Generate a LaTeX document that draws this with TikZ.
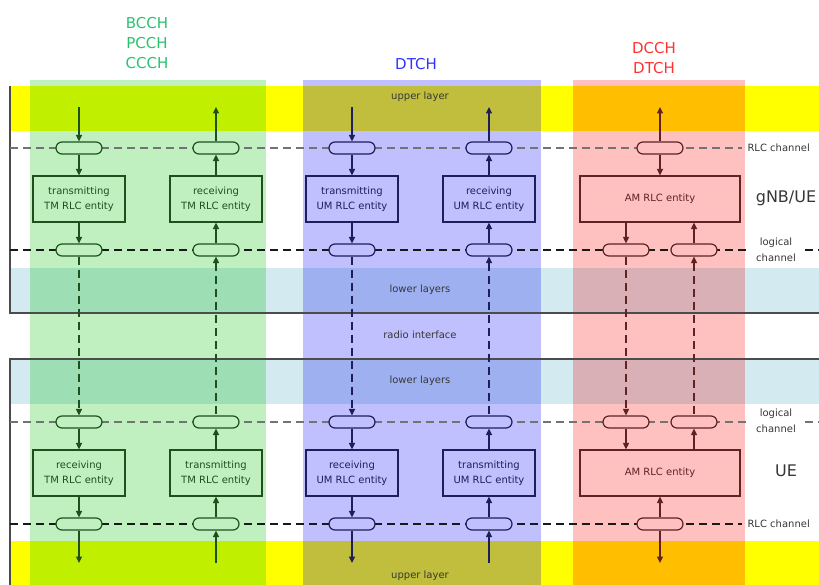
\documentclass[tikz,border=0pt]{standalone}
\usepackage{fontspec}
\setmainfont{DejaVu Sans}
\usetikzlibrary{arrows.meta}

% band and column colours (overlaps are pre-multiplied)
\definecolor{yel}{RGB}{255,255,0}
\definecolor{lblue}{RGB}{210,234,240}
\definecolor{gcol}{RGB}{192,240,192}
\definecolor{bcol}{RGB}{192,192,255}
\definecolor{rcol}{RGB}{255,192,192}
\definecolor{gyel}{RGB}{192,240,0}
\definecolor{byel}{RGB}{192,190,60}
\definecolor{ryel}{RGB}{255,190,0}
\definecolor{gblu}{RGB}{158,222,181}
\definecolor{bblu}{RGB}{158,176,240}
\definecolor{rblu}{RGB}{216,176,182}
% line colours
\definecolor{gln}{RGB}{30,80,30}
\definecolor{bln}{RGB}{30,30,90}
\definecolor{rln}{RGB}{95,35,35}
% heading colours
\definecolor{ghead}{RGB}{40,195,110}
\definecolor{bhead}{RGB}{50,50,255}
\definecolor{rhead}{RGB}{255,50,50}
\definecolor{txt}{RGB}{55,55,55}

\begin{document}
\begin{tikzpicture}[x=1pt,y=-1pt,
  pill/.style={draw, rounded corners=6pt, minimum width=46pt, minimum height=12pt,
    inner sep=0pt, line width=1.2pt},
  entity/.style={draw, minimum width=92pt, minimum height=46pt, inner sep=1pt,
    align=center, font=\fontsize{10}{15}\selectfont, line width=1.2pt},
  arrdown/.style={line width=1.2pt, -{Triangle[length=6.5pt,width=6pt]}},
  arrup/.style={line width=1.2pt, {Triangle[length=6.5pt,width=6pt]}-},
  dashpat/.style={dash pattern=on 8pt off 5pt},
  hdash/.style={line width=1.2pt, dash pattern=on 8pt off 5pt},
  frame/.style={line width=1.4pt, draw=black!70},
  lbl/.style={font=\fontsize{10}{16}\selectfont, text=txt, align=center},
  head/.style={font=\fontsize{15}{20}\selectfont, align=center},
]
\useasboundingbox (0,0) rectangle (819,585);
\fill[white] (0,0) rectangle (819,585);

% horizontal bands
\fill[yel] (10,86) rectangle (819,131);
\fill[yel] (10,541) rectangle (819,585);
\fill[lblue] (10,268) rectangle (819,313);
\fill[lblue] (10,359) rectangle (819,404);

% logical-channel columns, with their overlaps on the bands
\foreach \x/\w/\c/\cy/\cb in {30/236/gcol/gyel/gblu, 303/238/bcol/byel/bblu, 573/172/rcol/ryel/rblu}{
  \fill[\c] (\x,80) rectangle ++(\w,505);
  \fill[\cy] (\x,86) rectangle ++(\w,45);
  \fill[\cy] (\x,541) rectangle ++(\w,44);
  \fill[\cb] (\x,268) rectangle ++(\w,45);
  \fill[\cb] (\x,359) rectangle ++(\w,45);
}

% gNB/UE and UE frames
\draw[frame] (10,86) -- (10,313) -- (819,313);
\draw[frame] (819,359) -- (10,359) -- (10,585);

% channel lines
\draw[hdash, black!55] (10,148) -- (742,148);
\draw[hdash, black!90] (10,250) -- (748,250);
\draw[hdash, black!90] (805,250) -- (819,250);
\draw[hdash, black!55] (10,422) -- (748,422);
\draw[hdash, black!55] (805,422) -- (819,422);
\draw[hdash, black!90] (10,524) -- (742,524);

% layer and channel labels
\node[lbl] (ul1) at (420,97) {upper layer};
\node[lbl] (ul2) at (420,576) {upper layer};
\node[lbl] (ll1) at (420,290) {lower layers};
\node[lbl] (ll2) at (420,381) {lower layers};
\node[lbl] (ri) at (420,335) {radio interface};
\node[lbl, anchor=west] (rc1) at (744,148) {RLC channel};
\node[lbl, anchor=west] (rc2) at (744,524) {RLC channel};
\node[lbl] (lc1) at (776,250) {logical\\channel};
\node[lbl] (lc2) at (776,421) {logical\\channel};
\node[font=\fontsize{16}{18}\selectfont, text=txt] (gnb) at (786,198) {gNB/UE};
\node[font=\fontsize{16}{18}\selectfont, text=txt] (ue) at (786,471) {UE};

% column headings
\node[head, text=ghead] (hg) at (147,43) {BCCH\\PCCH\\CCCH};
\node[head, text=bhead] (hb) at (416,64) {DTCH};
\node[head, text=rhead] (hr) at (654,58) {DCCH\\DTCH};

% TM and UM entities: \u=1 means data flows upwards in the gNB/UE half
\foreach \n/\x/\lc/\fc/\mode/\ta/\tb/\u in {
  gL/79/gln/gcol/TM/transmitting/receiving/0,
  gR/216/gln/gcol/TM/receiving/transmitting/1,
  bL/352/bln/bcol/UM/transmitting/receiving/0,
  bR/489/bln/bcol/UM/receiving/transmitting/1}{
  \ifnum\u=1 \tikzset{flow/.style={arrup}}\else\tikzset{flow/.style={arrdown}}\fi
  \node[pill, draw=\lc, fill=\fc] (\n p1) at (\x,148) {};
  \node[pill, draw=\lc, fill=\fc] (\n p2) at (\x,250) {};
  \node[pill, draw=\lc, fill=\fc] (\n p3) at (\x,422) {};
  \node[pill, draw=\lc, fill=\fc] (\n p4) at (\x,524) {};
  \node[entity, draw=\lc, fill=\fc, text=\lc] (\n e1) at (\x,199) {\ta\\\mode\ RLC entity};
  \node[entity, draw=\lc, fill=\fc, text=\lc] (\n e2) at (\x,473) {\tb\\\mode\ RLC entity};
  \coordinate (\n top) at (\x,107);
  \coordinate (\n bot) at (\x,563);
  \draw[flow, color=\lc] (\n top) -- (\n p1.north);
  \draw[flow, color=\lc] (\n p1.south) -- (\n e1.north);
  \draw[flow, color=\lc] (\n e1.south) -- (\n p2.north);
  \draw[flow, color=\lc, dashpat] (\n p2.south) -- (\n p3.north);
  \draw[flow, color=\lc] (\n p3.south) -- (\n e2.north);
  \draw[flow, color=\lc] (\n e2.south) -- (\n p4.north);
  \draw[flow, color=\lc] (\n p4.south) -- (\n bot);
}

% AM entities
\node[pill, draw=rln, fill=rcol] (rp1) at (660,148) {};
\node[entity, minimum width=160pt, draw=rln, fill=rcol, text=rln] (re1) at (660,199) {AM RLC entity};
\node[pill, draw=rln, fill=rcol] (rLp2) at (626,250) {};
\node[pill, draw=rln, fill=rcol] (rRp2) at (694,250) {};
\node[pill, draw=rln, fill=rcol] (rLp3) at (626,422) {};
\node[pill, draw=rln, fill=rcol] (rRp3) at (694,422) {};
\node[entity, minimum width=160pt, draw=rln, fill=rcol, text=rln] (re2) at (660,473) {AM RLC entity};
\node[pill, draw=rln, fill=rcol] (rp4) at (660,524) {};
\coordinate (rtop) at (660,107);
\coordinate (rbot) at (660,563);

\draw[arrup, rln] (rtop) -- (rp1.north);
\draw[arrdown, rln] (rp1.south) -- (re1.north);
\draw[arrdown, rln] (rLp2 |- re1.south) -- (rLp2.north);
\draw[arrup, rln] (rRp2 |- re1.south) -- (rRp2.north);
\draw[arrdown, rln, dashpat] (rLp2.south) -- (rLp3.north);
\draw[arrup, rln, dashpat] (rRp2.south) -- (rRp3.north);
\draw[arrdown, rln] (rLp3.south) -- (rLp3 |- re2.north);
\draw[arrup, rln] (rRp3.south) -- (rRp3 |- re2.north);
\draw[arrup, rln] (re2.south) -- (rp4.north);
\draw[arrdown, rln] (rp4.south) -- (rbot);
\end{tikzpicture}
\end{document}
